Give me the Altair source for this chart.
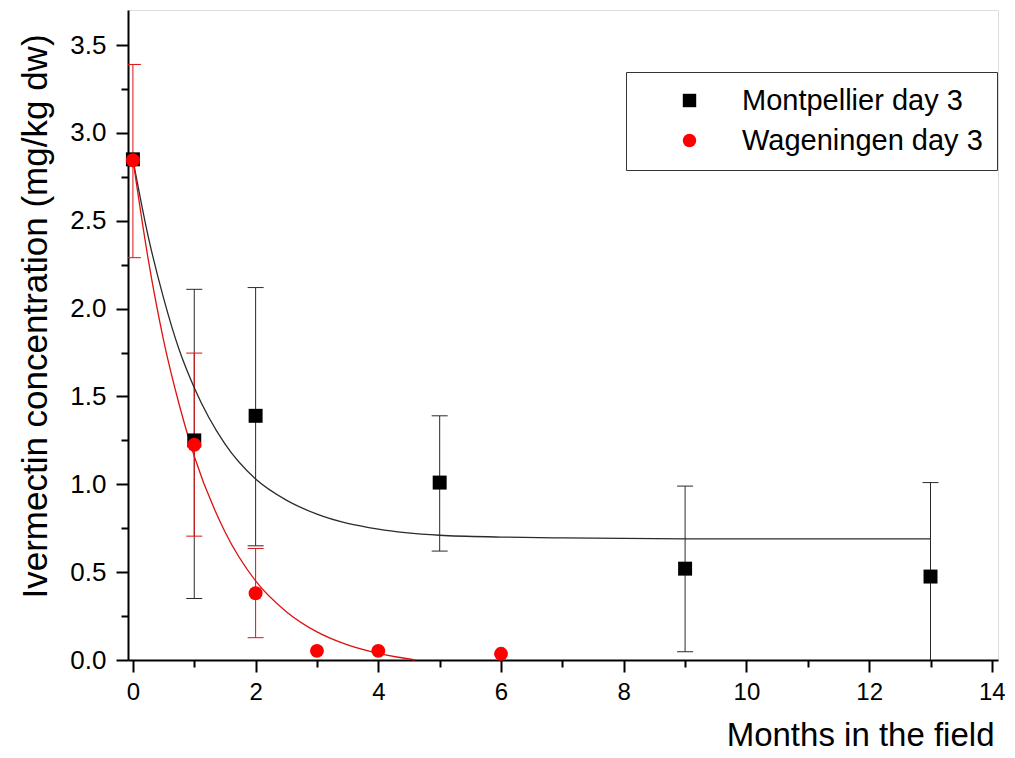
import altair as alt
import pandas as pd

# ---- data ----
series_names = ["Montpellier day 3", "Wageningen day 3"]

m_month = [0, 1, 2, 5, 9, 13]
m_conc = [2.85, 1.25, 1.39, 1.01, 0.52, 0.475]
m_err_month = [1, 2, 5, 9, 13]
m_err_lo = [0.35, 0.65, 0.62, 0.047, -0.1]
m_err_hi = [2.11, 2.12, 1.39, 0.99, 1.01]

w_month = [0, 1, 2, 3, 4, 6]
w_conc = [2.845, 1.225, 0.38, 0.052, 0.052, 0.035]
w_err_month = [0, 1, 2]
w_err_lo = [2.29, 0.705, 0.127]
w_err_hi = [3.39, 1.747, 0.635]

# fitted curves
m_fit_x = [0, 0.25, 0.5, 0.75, 1, 1.5, 2, 2.5, 3, 4, 5, 6, 7, 9, 11, 13]
m_fit_y = [2.85, 2.41, 2.06, 1.77, 1.55, 1.23, 1.03, 0.91, 0.83, 0.745, 0.71, 0.70, 0.695, 0.69, 0.69, 0.69]
w_fit_x = [0, 0.25, 0.5, 0.75, 1, 1.5, 2, 2.5, 3, 3.5, 4, 4.3, 4.6]
w_fit_y = [2.85, 2.28, 1.82, 1.46, 1.16, 0.73, 0.45, 0.275, 0.16, 0.086, 0.038, 0.017, 0.0]

x_ticks = list(range(0, 15))
y_ticks = [i * 0.25 for i in range(0, 15)]

# ---- tables ----
pts = pd.concat([
    pd.DataFrame({"month": m_month, "conc": m_conc, "series": series_names[0]}),
    pd.DataFrame({"month": w_month, "conc": w_conc, "series": series_names[1]}),
])
err_m = pd.DataFrame({"month": m_err_month, "lo": m_err_lo, "hi": m_err_hi})
err_w = pd.DataFrame({"month": w_err_month, "lo": w_err_lo, "hi": w_err_hi})
fit_m = pd.DataFrame({"month": m_fit_x, "conc": m_fit_y})
fit_w = pd.DataFrame({"month": w_fit_x, "conc": w_fit_y})

FONT = "Liberation Sans"
BLACK_LINE = "#2a2a2a"
RED_LINE = "#dd1111"

x_scale = alt.Scale(domain=[-0.08, 14.1], nice=False, zero=False)
y_scale = alt.Scale(domain=[0, 3.7], nice=False, zero=False)

x_axis = alt.Axis(
    values=x_ticks,
    format="d",
    labelExpr="datum.value % 2 == 0 ? datum.label : ''",
    tickSize={"condition": {"test": "datum.value % 2 == 0", "value": 12}, "value": 7},
    tickWidth=2, tickColor="black",
    domainWidth=2, domainColor="black",
    labelFontSize=24, labelFont=FONT, labelColor="black", labelPadding=8,
    labelOverlap=False, labelFlush=False,
    grid=False,
    title="Months in the field",
    titleFont=FONT, titleFontSize=33, titleFontWeight="normal", titleColor="black",
    titleX=866, titleY=85, titleAlign="right", titleBaseline="alphabetic",
)
y_axis = alt.Axis(
    values=y_ticks,
    format=".1f",
    labelExpr="round(datum.value * 4) % 2 == 0 ? datum.label : ''",
    tickSize={"condition": {"test": "round(datum.value * 4) % 2 == 0", "value": 12}, "value": 7},
    tickWidth=2, tickColor="black",
    domainWidth=2, domainColor="black",
    labelFontSize=26, labelFont=FONT, labelColor="black", labelPadding=10,
    labelOverlap=False, labelFlush=False,
    grid=False,
    title="Ivermectin concentration (mg/kg dw)",
    titleFont=FONT, titleFontSize=35, titleFontWeight="normal", titleColor="black",
    titleX=-93, titleY=306, titleAngle=270, titleAlign="center", titleBaseline="middle",
)

X = lambda f: alt.X(f, scale=x_scale, axis=x_axis)
Y = lambda f: alt.Y(f, scale=y_scale, axis=y_axis)


def error_layers(df, color):
    bars = alt.Chart(df).mark_rule(strokeWidth=1, clip=True, color=color).encode(
        x=X("month:Q"), y=Y("lo:Q"), y2="hi:Q"
    )
    caps = alt.Chart(df).transform_fold(["lo", "hi"], as_=["end", "yv"]).mark_point(
        shape="M-1,0L1,0", size=256, strokeWidth=1, filled=False, opacity=1,
        clip=True, color=color,
    ).encode(x=X("month:Q"), y=Y("yv:Q"))
    return [bars, caps]


def curve_layer(df, color):
    return alt.Chart(df).mark_line(strokeWidth=1.3, interpolate="monotone", color=color).encode(
        x=X("month:Q"), y=Y("conc:Q")
    )


legend = alt.Legend(
    orient="none",
    legendX=498,
    legendY=62,
    strokeColor="#333333",
    fillColor="white",
    padding=14,
    labelFont=FONT,
    labelFontSize=29,
    labelColor="black",
    symbolSize=180,
    symbolOffset=35,
    labelOffset=38,
    rowPadding=10,
    labelLimit=400,
)

points = alt.Chart(pts).mark_point(filled=True, opacity=1, size=195).encode(
    x=X("month:Q"),
    y=Y("conc:Q"),
    color=alt.Color(
        "series:N",
        scale=alt.Scale(domain=series_names, range=["#000000", "#ff0000"]),
        legend=legend,
        title="",
    ),
    shape=alt.Shape(
        "series:N",
        scale=alt.Scale(domain=series_names, range=["square", "circle"]),
        legend=legend,
        title="",
    ),
)

layers = (
    error_layers(err_m, BLACK_LINE)
    + error_layers(err_w, RED_LINE)
    + [curve_layer(fit_m, BLACK_LINE), curve_layer(fit_w, RED_LINE), points]
)

chart = alt.layer(*layers).properties(
    width=870,
    height=650,
    autosize=alt.AutoSizeParams(type="none"),
    padding={"left": 120, "top": 2, "right": 7, "bottom": 90},
).configure_view(stroke=None).configure(background="white")

chart.save("out.html", embed_options={"renderer": "svg", "actions": False})
